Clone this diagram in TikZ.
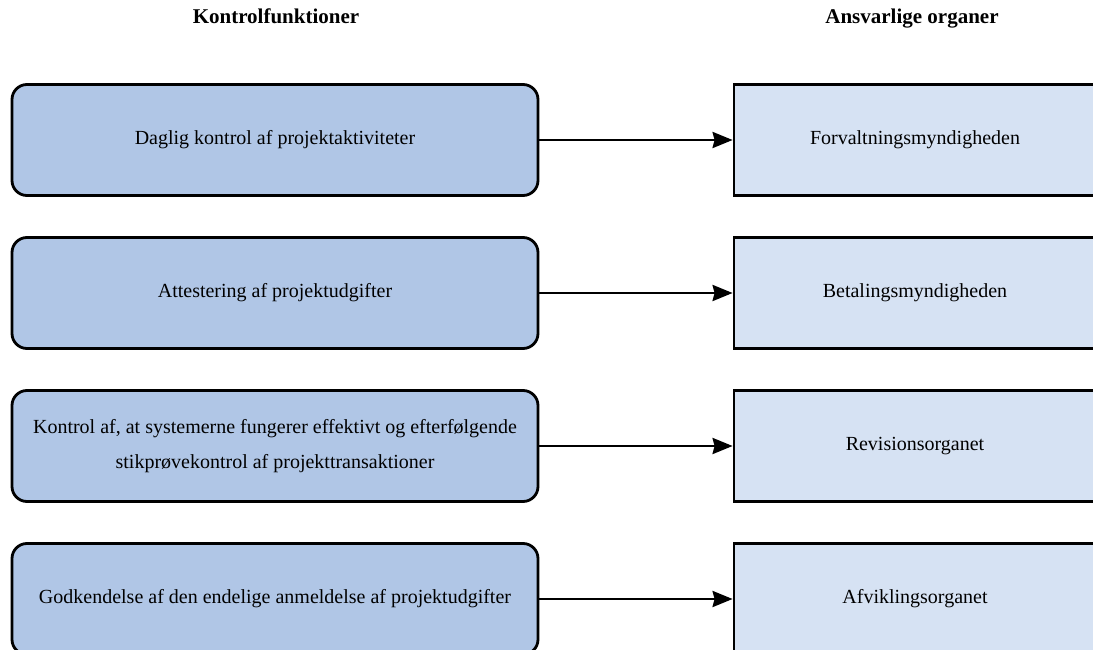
\documentclass[tikz,border=0pt]{standalone}
\usepackage{fontspec}
\setmainfont{Liberation Serif}
\usepackage{xcolor}
\definecolor{KontrolFill}{HTML}{B0C6E6}
\definecolor{OrganFill}{HTML}{D6E2F3}
\usetikzlibrary{positioning,arrows.meta}

\begin{document}
\begin{tikzpicture}[
    x=1pt, y=-1pt,
    kontrol/.style={
        draw,
        line width=2.8pt,
        rounded corners=15pt,
        minimum width=526pt,
        minimum height=111pt,
        align=center,
        fill=KontrolFill,
        font=\fontsize{20}{35}\selectfont
    },
    organ/.style={
        draw,
        line width=2.8pt,
        minimum width=362pt,
        minimum height=111pt,
        align=center,
        fill=OrganFill,
        font=\fontsize{20}{35}\selectfont
    },
    pil/.style={-{Stealth[length=20pt,width=16pt,inset=2pt]},line width=2.8pt},
    overskrift/.style={
        font=\fontsize{21}{24}\selectfont\bfseries,
        anchor=base
    }
]
\useasboundingbox (0,0) rectangle (1093,650);

% ---------------------------------------------------------
% Overskrifter
% ---------------------------------------------------------

\node[overskrift] (hkontrol) at (276,24) {Kontrolfunktioner};
\node[overskrift] (horgan)   at (912,24) {Ansvarlige organer};

% ---------------------------------------------------------
% Kontrolfunktioner
% ---------------------------------------------------------

\node[kontrol] (daglig) at (275,140)
{Daglig kontrol af projektaktiviteter};

\node[kontrol] (attest) at (275,293)
{Attestering af projektudgifter};

\node[kontrol] (system) at (275,446)
{Kontrol af, at systemerne fungerer effektivt og efterfølgende\\stikprøvekontrol af projekttransaktioner};

\node[kontrol] (godk) at (275,599)
{Godkendelse af den endelige anmeldelse af projektudgifter};

% ---------------------------------------------------------
% Ansvarlige organer
% ---------------------------------------------------------

\node[organ] (forvalt) at (915,140)
{Forvaltningsmyndigheden};

\node[organ] (betal) at (915,293)
{Betalingsmyndigheden};

\node[organ] (revision) at (915,446)
{Revisionsorganet};

\node[organ] (afvikl) at (915,599)
{Afviklingsorganet};

% ---------------------------------------------------------
% Pile
% ---------------------------------------------------------

\draw[pil] (daglig) -- (forvalt);
\draw[pil] (attest) -- (betal);
\draw[pil] (system) -- (revision);
\draw[pil] (godk) -- (afvikl);

\end{tikzpicture}
\end{document}
